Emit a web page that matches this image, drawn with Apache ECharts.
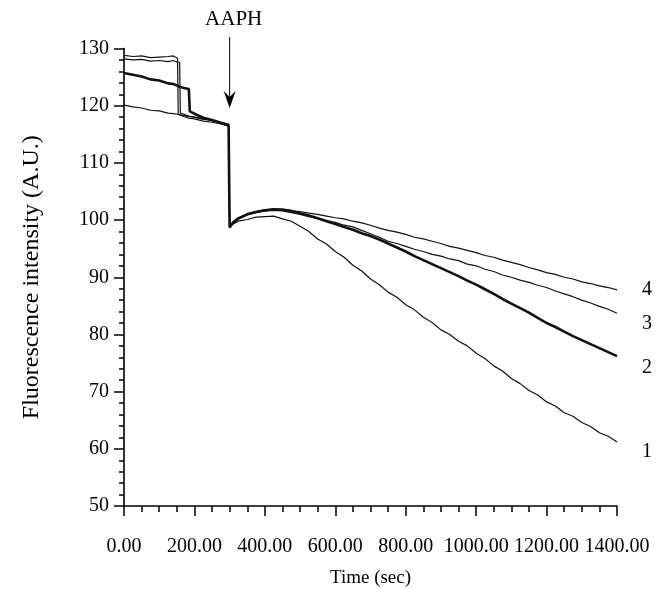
<!DOCTYPE html>
<html>
<head>
<meta charset="utf-8">
<script src="https://cdn.jsdelivr.net/npm/echarts@6/dist/echarts.min.js"></script>
<style>
html,body{margin:0;padding:0;background:#fff;}
#chart{width:665px;height:589px;}
</style>
</head>
<body>
<div id="chart"></div>
<script>
// Time points (sec)
const time = [0,25,50,75,100,125,140,152,154,158,160,170,184,187,200,225,250,275,297,
  300,310,325,350,375,400,425,450,475,500,525,550,575,600,625,650,675,700,725,750,775,800,
  825,850,875,900,925,950,975,1000,1025,1050,1075,1100,1125,1150,1175,1200,1225,1250,1275,
  1300,1325,1350,1375,1400];

const curve1 = [120.1,119.8,119.6,119.2,119.1,118.7,118.6,118.5,118.3,118.4,118.2,118.1,117.8,117.9,117.7,117.3,117.1,116.8,116.4,
  98.9,99.3,99.8,100.1,100.5,100.6,100.7,100.2,99.8,98.9,98.0,96.7,95.8,94.5,93.5,92.1,91.1,89.7,88.7,87.4,
  86.5,85.2,84.3,83.0,82.1,80.8,80.0,78.8,78.0,76.7,75.8,74.5,73.6,72.3,71.4,70.2,69.4,68.2,67.5,66.3,
  65.7,64.6,63.9,62.8,62.2,61.2];

const curve2 = [125.7,125.4,125.1,124.6,124.4,123.9,123.8,123.5,123.5,123.3,123.4,123.1,122.9,119.0,118.6,117.9,117.5,117.0,116.6,
  98.7,99.6,100.3,101.0,101.4,101.7,101.9,101.8,101.6,101.2,100.8,100.3,99.8,99.3,98.8,98.3,97.7,97.2,96.6,95.9,
  95.2,94.5,93.7,93.0,92.3,91.6,90.9,90.2,89.4,88.7,87.9,87.1,86.2,85.4,84.6,83.8,82.9,82.0,81.3,80.5,
  79.7,79.0,78.3,77.6,76.9,76.2];

const curve3 = [128.2,128.0,128.1,127.8,127.9,127.7,127.9,127.6,127.7,127.6,118.7,118.5,118.2,118.3,118.0,117.7,117.4,117.1,116.7,
  98.8,99.5,100.2,100.9,101.3,101.6,101.7,101.6,101.3,101.0,100.6,100.3,99.9,99.6,99.1,98.8,98.2,97.6,97.0,96.3,
  95.9,95.4,94.9,94.5,94.0,93.7,93.2,92.9,92.3,92.0,91.4,91.0,90.4,90.0,89.5,89.1,88.6,88.2,87.6,87.1,
  86.6,86.0,85.5,84.9,84.4,83.7];

const curve4 = [128.8,128.6,128.7,128.4,128.5,128.6,128.7,128.3,118.5,118.6,118.4,118.3,118.1,118.2,118.0,117.6,117.5,117.1,116.8,
  98.9,99.6,100.4,101.1,101.5,101.8,101.9,101.9,101.6,101.5,101.2,101.0,100.7,100.4,100.2,99.8,99.5,99.1,98.6,98.2,
  97.9,97.5,97.0,96.7,96.3,95.9,95.4,95.1,94.7,94.3,93.8,93.5,93.0,92.6,92.2,91.7,91.3,90.8,90.5,90.0,
  89.7,89.2,88.9,88.5,88.2,87.8];

const curveLabels = ['1','2','3','4'];
const aaphTime = 300;
const aaphText = 'AAPH';

(function(){
const FONT = 'Liberation Serif';
const pairs = arr => time.map((t,i) => [t, arr[i]]);

const chart = echarts.init(document.getElementById('chart'), null, {renderer:'canvas'});

function mkSeries(arr, label, width, dy) {
  return {
    type:'line', data: pairs(arr), showSymbol:false, symbol:'none',
    lineStyle:{color:'#111', width: width},
    z: width > 1.5 ? 5 : 3,
    clip:false,
    endLabel:{show:true, formatter:label, fontFamily:FONT, fontSize:20, color:'#000', offset:[17, dy]}
  };
}

chart.setOption({
  animation:false,
  backgroundColor:'#fff',
  grid:{left:124, right:48, top:48.5, bottom:83, containLabel:false, outerBoundsMode:'none'},
  xAxis:{
    type:'value', min:0, max:1400, interval:200,
    axisLine:{show:true, lineStyle:{color:'#000', width:1.6}},
    axisTick:{show:true, length:10, lineStyle:{color:'#000', width:1.5}},
    minorTick:{show:true, splitNumber:4, length:6, lineStyle:{color:'#000', width:1.5}},
    splitLine:{show:false},
    axisLabel:{formatter:v => v.toFixed(2), fontFamily:FONT, fontSize:20, color:'#000', margin:31},
    name:'Time (sec)', nameLocation:'middle', nameGap:63,
    nameTextStyle:{fontFamily:FONT, fontSize:19, color:'#000'}
  },
  yAxis:{
    type:'value', min:50, max:130, interval:10,
    axisLine:{show:true, lineStyle:{color:'#000', width:1.6}},
    axisTick:{show:true, length:10, lineStyle:{color:'#000', width:1.5}},
    minorTick:{show:true, splitNumber:5, length:5, lineStyle:{color:'#000', width:1.5}},
    splitLine:{show:false},
    axisLabel:{fontFamily:FONT, fontSize:20, color:'#000', margin:15},
    name:'Fluorescence intensity (A.U.)', nameLocation:'middle', nameGap:80, nameRotate:90,
    nameTextStyle:{fontFamily:FONT, fontSize:24, color:'#000'}
  },
  series:[
    mkSeries(curve1, curveLabels[0], 1.2, 10),
    mkSeries(curve3, curveLabels[2], 1.2, 10),
    mkSeries(curve4, curveLabels[3], 1.2, 0),
    mkSeries(curve2, curveLabels[1], 2.6, 12)
  ]
});

// AAPH arrow annotation positioned through the axis scales
const pTop = chart.convertToPixel({gridIndex:0}, [aaphTime, 132.0]);
const pTip = chart.convertToPixel({gridIndex:0}, [aaphTime, 119.6]);
const pTxt = chart.convertToPixel({gridIndex:0}, [aaphTime, 133.2]);
const x = pTip[0];
chart.setOption({
  graphic:[
    {type:'line', shape:{x1:x, y1:pTop[1], x2:x, y2:pTip[1]-8}, style:{stroke:'#000', lineWidth:1}},
    {type:'polygon', shape:{points:[[x, pTip[1]], [x-6, pTip[1]-17], [x, pTip[1]-11], [x+6, pTip[1]-17]]}, style:{fill:'#000'}},
    {type:'text', x: x+4, y: pTxt[1], style:{text:aaphText, font:'21px "Liberation Serif"', fill:'#000', textAlign:'center', textVerticalAlign:'bottom'}}
  ]
});
})();
</script>
</body>
</html>
